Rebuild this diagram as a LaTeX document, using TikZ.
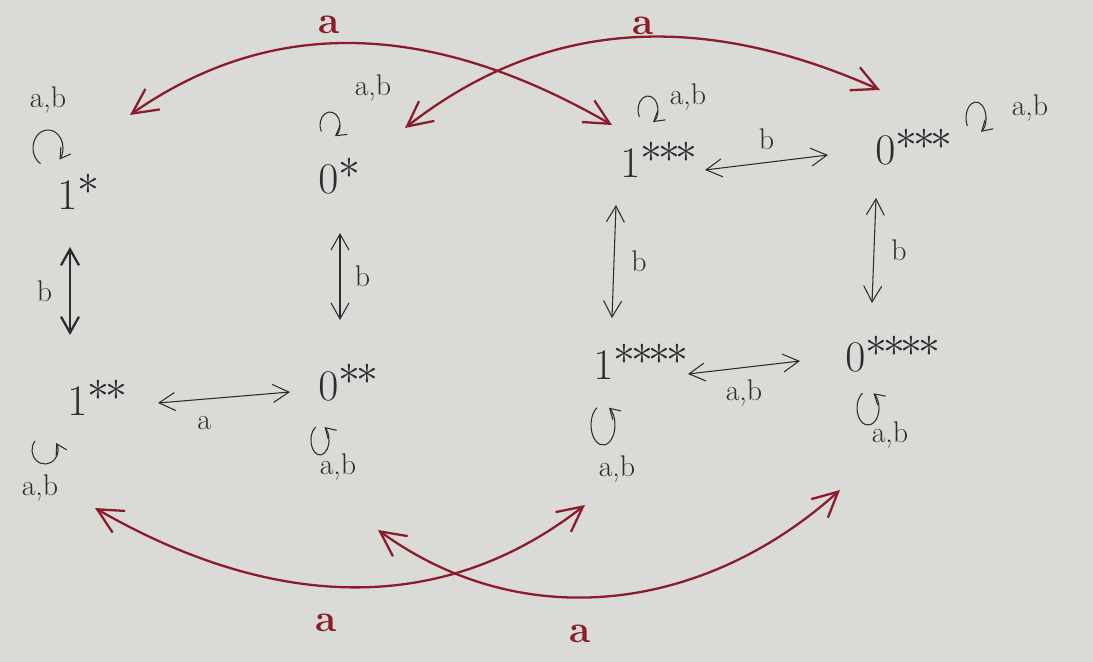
\documentclass[tikz,border=0pt]{standalone}
\usepackage{tikz}
\usetikzlibrary{arrows.meta,calc}
\definecolor{paper}{HTML}{DADAD6}
\definecolor{ink}{HTML}{2B2B30}
\definecolor{redink}{HTML}{8B1C2C}
\tikzset{
  state/.style={font=\fontsize{26}{30}\selectfont, text=ink, inner sep=0pt, anchor=base west},
  arr/.style={<->, >={Straight Barb[length=3.2mm,width=3.6mm]}, line width=0.6pt, ink},
  redarr/.style={<->, >={Straight Barb[length=5mm,width=5mm]}, line width=1.3pt, redink},
  loopy/.style={->, >={Straight Barb[length=2mm,width=2.4mm]}, line width=0.6pt, ink},
  lbl/.style={font=\fontsize{17}{20}\selectfont, text=ink, inner sep=1pt},
  rlbl/.style={font=\fontsize{22}{24}\selectfont\bfseries, text=redink, inner sep=1pt},
}
% big stars for the state names
\newcommand{\st}{{\textstyle *}}
\newcommand{\nx}{\mkern-2.5mu}
% self loop: node, dx, dy, x radius, y radius, start, end
\newcommand{\stateloop}[7]{\draw[loopy] ([shift={(#2,#3)}]#1.base west) ++({#4*cos(#6)},{#5*sin(#6)}) arc[start angle=#6,end angle=#7,x radius=#4,y radius=#5];}
\begin{document}
\begin{tikzpicture}[x=0.02cm,y=-0.02cm]
  \fill[paper] (0,0) rectangle (1093,662);
  \useasboundingbox (0,0) rectangle (1093,662);
  % states
  \node[state] (t1) at (57,210) {$1^{\st}$};
  \node[state] (t2) at (318,194) {$0^{\st}$};
  \node[state] (t3) at (620,178) {$1^{\st\nx\st\nx\st}$};
  \node[state] (t4) at (875,165) {$0^{\st\nx\st\nx\st}$};
  \node[state] (u1) at (67,416) {$1^{\st\nx\st}$};
  \node[state] (u2) at (318,400) {$0^{\st\nx\st}$};
  \node[state] (u3) at (593,380) {$1^{\st\nx\st\nx\st\nx\st}$};
  \node[state] (u4) at (845,372) {$0^{\st\nx\st\nx\st\nx\st}$};
  % b transitions, top to bottom
  \draw[arr, line width=1.3pt] ([shift={(13,37)}]t1.base west) -- node[lbl, left=3mm] (lb1) {b} ([shift={(3,-81)}]u1.base west);
  \draw[arr] ([shift={(22,39)}]t2.base west) -- node[lbl, right=2.5mm] (lb2) {b} ([shift={(22,-80)}]u2.base west);
  \draw[arr] ([shift={(-4,27)}]t3.base west) -- node[lbl, right=3mm] (lb3) {b} ([shift={(19,-62)}]u3.base west);
  \draw[arr] ([shift={(1,33)}]t4.base west) -- node[lbl, right=3mm] (lb4) {b} ([shift={(27,-69)}]u4.base west);
  % side to side
  \draw[arr] ([shift={(91,-13)}]u1.base west) -- node[lbl, below=3mm, pos=0.35] (la1) {a} ([shift={(-28,-8)}]u2.base west);
  \draw[arr] ([shift={(85,-8)}]t3.base west) -- node[lbl, above=2mm] (lb5) {b} ([shift={(-47,-10)}]t4.base west);
  \draw[arr] ([shift={(95,-6)}]u3.base west) -- node[lbl, below=2mm] (lab1) {a,b} ([shift={(-45,-11)}]u4.base west);
  % loops
  \stateloop{t1}{-9}{-62}{15}{18}{120}{400}
  \stateloop{t2}{12}{-69}{10}{13}{150}{420}
  \stateloop{t3}{28}{-68}{10}{14}{150}{420}
  \stateloop{t4}{101}{-47}{10}{16}{150}{420}
  \stateloop{u1}{-22}{34}{13}{14}{220}{-30}
  \stateloop{u2}{2}{40}{9}{15}{240}{-60}
  \stateloop{u3}{10}{45}{12}{20}{240}{-60}
  \stateloop{u4}{23}{36}{11}{17}{240}{-60}
  \node[lbl] (lt1) at ([shift={(-9,-110)}]t1.base west) {a,b};
  \node[lbl] (lt2) at ([shift={(55,-106)}]t2.base west) {a,b};
  \node[lbl] (lt3) at ([shift={(68,-81)}]t3.base west) {a,b};
  \node[lbl] (lt4) at ([shift={(155,-57)}]t4.base west) {a,b};
  \node[lbl] (lu1) at ([shift={(-27,72)}]u1.base west) {a,b};
  \node[lbl] (lu2) at ([shift={(20,67)}]u2.base west) {a,b};
  \node[lbl] (lu3) at ([shift={(24,89)}]u3.base west) {a,b};
  \node[lbl] (lu4) at ([shift={(45,63)}]u4.base west) {a,b};
  % red a arcs
  \draw[redarr] ([shift={(73,-95)}]t1.base west) to[out=35,in=150] node[rlbl, above=1.5mm, pos=0.42] (ra1) {a} ([shift={(-8,-53)}]t3.base west);
  \draw[redarr] ([shift={(87,-66)}]t2.base west) to[out=38,in=156] node[rlbl, above=0pt, pos=0.52] (ra2) {a} ([shift={(5,-75)}]t4.base west);
  \draw[redarr] ([shift={(28,92)}]u1.base west) to[out=-30,in=-142] node[rlbl, below=5mm, pos=0.46] (ra3) {a} ([shift={(-8,125)}]u3.base west);
  \draw[redarr] ([shift={(60,130)}]u2.base west) to[out=-36,in=-138] node[rlbl, below=5mm, pos=0.43] (ra4) {a} ([shift={(-5,118)}]u4.base west);
\end{tikzpicture}
\end{document}
